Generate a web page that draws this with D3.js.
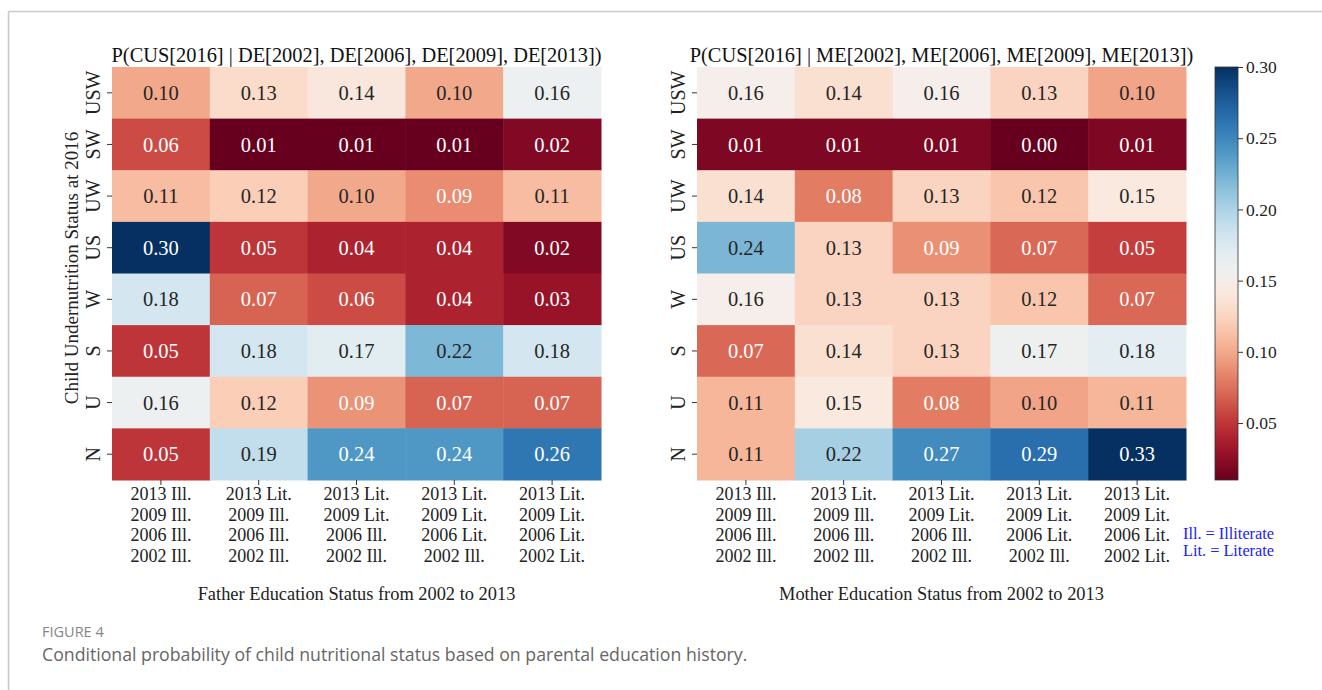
<!DOCTYPE html>
<html>
<head>
<meta charset="utf-8">
<script src="https://cdn.jsdelivr.net/npm/d3@7/dist/d3.min.js"></script>
<style>
  html, body { margin: 0; padding: 0; background: #fff; }
  svg { display: block; }
  .serif { font-family: "Liberation Serif", "Times New Roman", serif; }
</style>
</head>
<body>
<svg id="chart" width="1322" height="690"></svg>
<script>
// Nutrition status categories (rows, top to bottom)
const statuses = ["USW", "SW", "UW", "US", "W", "S", "U", "N"];

// Education histories (columns), one line per survey year
const educationHistories = [
  ["2013 Ill.", "2009 Ill.", "2006 Ill.", "2002 Ill."],
  ["2013 Lit.", "2009 Ill.", "2006 Ill.", "2002 Ill."],
  ["2013 Lit.", "2009 Lit.", "2006 Ill.", "2002 Ill."],
  ["2013 Lit.", "2009 Lit.", "2006 Lit.", "2002 Ill."],
  ["2013 Lit.", "2009 Lit.", "2006 Lit.", "2002 Lit."]
];

// P(CUS[2016] | father education history), rows follow `statuses`
const fatherProb = [
  [0.10, 0.13, 0.14, 0.10, 0.16],
  [0.06, 0.01, 0.01, 0.01, 0.02],
  [0.11, 0.12, 0.10, 0.087, 0.11],
  [0.30, 0.05, 0.04, 0.04, 0.02],
  [0.18, 0.07, 0.06, 0.04, 0.03],
  [0.05, 0.18, 0.17, 0.22, 0.18],
  [0.16, 0.12, 0.09, 0.07, 0.07],
  [0.05, 0.19, 0.24, 0.24, 0.26]
];

// P(CUS[2016] | mother education history)
const motherProb = [
  [0.16, 0.14, 0.16, 0.13, 0.10],
  [0.01, 0.01, 0.01, 0.00, 0.01],
  [0.14, 0.08, 0.13, 0.12, 0.15],
  [0.24, 0.13, 0.09, 0.07, 0.05],
  [0.16, 0.13, 0.13, 0.12, 0.07],
  [0.07, 0.14, 0.13, 0.17, 0.18],
  [0.11, 0.15, 0.08, 0.10, 0.11],
  [0.11, 0.22, 0.27, 0.29, 0.33]
];

const colorbarTicks = [0.05, 0.10, 0.15, 0.20, 0.25, 0.30];

const svg = d3.select("#chart");

// page frame
svg.append("line").attr("x1", 8.5).attr("x2", 1322).attr("y1", 11.5).attr("y2", 11.5)
  .attr("stroke", "#c8c8c8").attr("stroke-width", 1.5);
svg.append("line").attr("x1", 8.5).attr("x2", 8.5).attr("y1", 11.5).attr("y2", 690)
  .attr("stroke", "#c8c8c8").attr("stroke-width", 1.5);

// matplotlib-style relative luminance to choose annotation colour
function luminance(c) {
  const rgb = d3.rgb(c);
  const lin = v => { v /= 255; return v <= 0.03928 ? v / 12.92 : Math.pow((v + 0.055) / 1.055, 2.4); };
  return 0.2126 * lin(rgb.r) + 0.7152 * lin(rgb.g) + 0.0722 * lin(rgb.b);
}

const plotTop = 67, plotBottom = 480;

function heatmap(data, opts) {
  const g = svg.append("g").attr("class", "serif");
  const x = d3.scaleBand().domain(d3.range(educationHistories.length)).range([opts.x0, opts.x1]);
  const y = d3.scaleBand().domain(statuses).range([plotTop, plotBottom]);
  const flat = data.flat();
  const color = d3.scaleSequential(d3.interpolateRdBu).domain([d3.min(flat), d3.max(flat)]).clamp(true);

  const cells = [];
  data.forEach((row, i) => row.forEach((v, j) => cells.push({ status: statuses[i], col: j, v })));

  g.selectAll("rect.cell").data(cells).join("rect")
    .attr("class", "cell")
    .attr("x", d => x(d.col)).attr("y", d => y(d.status))
    .attr("width", x.bandwidth() + 0.5).attr("height", y.bandwidth() + 0.5)
    .attr("fill", d => color(d.v));

  g.selectAll("text.val").data(cells).join("text")
    .attr("class", "val")
    .attr("x", d => x(d.col) + x.bandwidth() / 2)
    .attr("y", d => y(d.status) + y.bandwidth() / 2)
    .attr("dy", "0.35em")
    .attr("text-anchor", "middle")
    .attr("font-size", 20.5)
    .attr("fill", d => luminance(color(d.v)) > 0.408 ? "#262626" : "#ffffff")
    .text(d => d3.format(".2f")(d.v));

  // y axis with rotated category labels
  const ya = g.append("g").attr("transform", `translate(${opts.x0},0)`)
    .call(d3.axisLeft(y).tickSize(5).tickPadding(3));
  ya.select(".domain").remove();
  ya.selectAll(".tick line").attr("stroke", "#333");
  ya.selectAll(".tick text")
    .attr("font-family", "Liberation Serif, serif").attr("font-size", 20).attr("fill", "#222")
    .attr("text-anchor", "middle").attr("dy", null)
    .attr("transform", "translate(-19,0) rotate(-90)")
    .attr("x", 0).attr("y", 0).attr("dominant-baseline", "central");

  // x axis with stacked year labels
  const xa = g.append("g").attr("transform", `translate(0,${plotBottom})`)
    .call(d3.axisBottom(x).tickSize(5).tickFormat(""));
  xa.select(".domain").remove();
  xa.selectAll(".tick line").attr("stroke", "#333");
  xa.selectAll(".tick").each(function (d) {
    const t = d3.select(this).append("text")
      .attr("text-anchor", "middle").attr("font-family", "Liberation Serif, serif")
      .attr("font-size", 18).attr("fill", "#222");
    educationHistories[d].forEach((line, k) => {
      t.append("tspan").attr("x", 0).attr("y", 20 + k * 20.7).text(line);
    });
  });

  // title and axis label
  g.append("text").attr("x", (opts.x0 + opts.x1) / 2).attr("y", 62)
    .attr("text-anchor", "middle").attr("font-size", 20.4).attr("fill", "#111")
    .text(opts.title);
  g.append("text").attr("x", (opts.x0 + opts.x1) / 2).attr("y", 600)
    .attr("text-anchor", "middle").attr("font-size", 18.4).attr("fill", "#222")
    .text(opts.xLabel);
  return color;
}

const fatherColor = heatmap(fatherProb, {
  x0: 112, x1: 601,
  title: "P(CUS[2016] | DE[2002], DE[2006], DE[2009], DE[2013])",
  xLabel: "Father Education Status from 2002 to 2013"
});
heatmap(motherProb, {
  x0: 697, x1: 1186,
  title: "P(CUS[2016] | ME[2002], ME[2006], ME[2009], ME[2013])",
  xLabel: "Mother Education Status from 2002 to 2013"
});

// shared y label
svg.append("text").attr("class", "serif")
  .attr("transform", `translate(78,268) rotate(-90)`)
  .attr("text-anchor", "middle").attr("font-size", 19).attr("fill", "#222")
  .text("Child Undernutrition Status at 2016");

// colorbar
const cbX = 1215, cbW = 23;
const cbScale = d3.scaleLinear().domain(fatherColor.domain()).range([plotBottom, plotTop]);
const defs = svg.append("defs");
const grad = defs.append("linearGradient").attr("id", "cbGrad")
  .attr("x1", 0).attr("y1", 1).attr("x2", 0).attr("y2", 0);
d3.range(0, 1.0001, 0.05).forEach(t => {
  grad.append("stop").attr("offset", t).attr("stop-color", d3.interpolateRdBu(t));
});
svg.append("rect").attr("x", cbX).attr("y", plotTop).attr("width", cbW).attr("height", plotBottom - plotTop)
  .attr("fill", "url(#cbGrad)").attr("stroke", "#333").attr("stroke-width", 0.8);
const cba = svg.append("g").attr("class", "serif").attr("transform", `translate(${cbX + cbW},0)`)
  .call(d3.axisRight(cbScale).tickValues(colorbarTicks).tickFormat(d3.format(".2f")).tickSize(5).tickPadding(3));
cba.select(".domain").remove();
cba.selectAll(".tick line").attr("stroke", "#333");
cba.selectAll(".tick text").attr("font-family", "Liberation Serif, serif").attr("font-size", 17.5).attr("fill", "#222");

// abbreviation key
const key = svg.append("g").attr("class", "serif").attr("font-size", 16.3).attr("fill", "#2020ff");
key.append("text").attr("x", 1183).attr("y", 539).text("Ill. = Illiterate");
key.append("text").attr("x", 1183).attr("y", 556).text("Lit. = Literate");

// figure caption
svg.append("text").attr("x", 42).attr("y", 637)
  .attr("font-family", "Open Sans, Noto Sans, sans-serif").attr("font-size", 14.5)
  .attr("font-weight", 500).attr("fill", "#858585")
  .text("FIGURE 4");
svg.append("text").attr("x", 42).attr("y", 661)
  .attr("font-family", "Open Sans, Noto Sans, sans-serif").attr("font-size", 17.7).attr("fill", "#666")
  .text("Conditional probability of child nutritional status based on parental education history.");
</script>
</body>
</html>
